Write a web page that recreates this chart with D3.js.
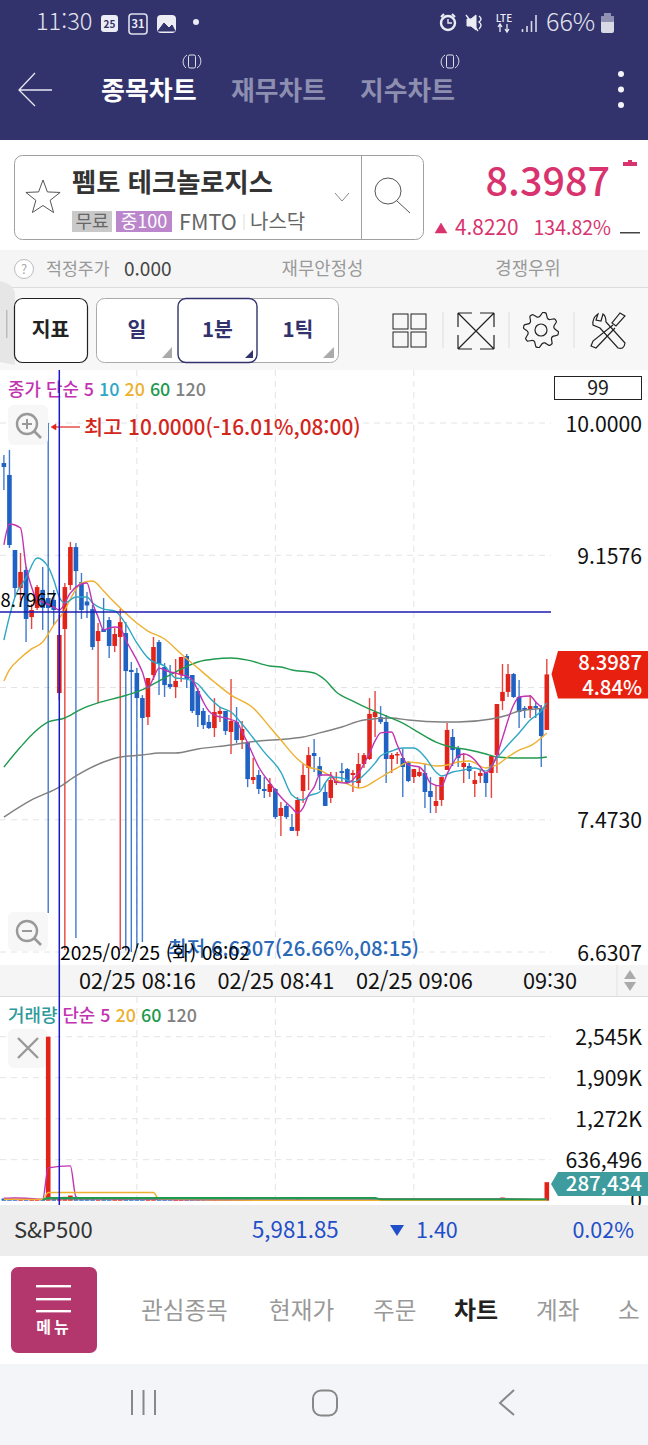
<!DOCTYPE html>
<html lang="ko">
<head>
<meta charset="utf-8">
<title>종목차트</title>
<script src="https://cdn.jsdelivr.net/npm/d3@7"></script>
<style>
  html, body { margin: 0; padding: 0; background: #fff; }
  svg { display: block; }
  text { font-family: "Noto Sans CJK KR", "Noto Sans", sans-serif; }
  .tick line, .domain { display: none; }
</style>
</head>
<body>
<svg id="screen" width="648" height="1445"></svg>
<script>
// 1분봉 99개, 07:52 ~ 09:30
const opens = [
  9.745, 9.669, 9.191, 8.949, 9.064, 8.764, 8.822, 8.937, 8.885, 8.873,
  8.280, 8.688, 8.968, 9.210, 8.987, 8.863, 8.815, 8.611, 8.688, 8.745,
  8.580, 8.637, 8.662, 8.427, 8.408, 8.248, 8.127, 8.395, 8.605, 8.446,
  8.338, 8.318, 8.395, 8.516, 8.395, 8.293, 8.166, 8.096, 8.057, 8.147,
  8.166, 8.032, 8.096, 7.981, 7.968, 7.726, 7.758, 7.669, 7.650, 7.669,
  7.497, 7.561, 7.427, 7.402, 7.656, 7.803, 7.898, 7.815, 7.650, 7.612,
  7.707, 7.783, 7.796, 7.758, 7.707, 7.828, 7.860, 8.127, 8.127, 8.096,
  7.860, 7.885, 7.866, 7.841, 7.745, 7.752, 7.771, 7.656, 7.561, 7.599,
  7.790, 8.000, 7.930, 7.809, 7.815, 7.701, 7.752, 7.771, 7.771, 7.885,
  8.229, 8.287, 8.401, 8.255, 8.185, 8.172, 8.197, 8.185, 8.045
];
const closes = [
  9.720, 9.223, 8.949, 9.051, 8.752, 8.809, 8.955, 8.822, 8.822, 8.809,
  8.650, 8.955, 9.210, 9.057, 8.809, 8.838, 8.573, 8.675, 8.669, 8.580,
  8.656, 8.732, 8.420, 8.414, 8.248, 8.121, 8.376, 8.573, 8.465, 8.331,
  8.318, 8.357, 8.510, 8.370, 8.166, 8.140, 8.076, 8.057, 8.159, 8.166,
  8.038, 8.102, 7.981, 8.051, 7.732, 7.745, 7.669, 7.656, 7.701, 7.490,
  7.548, 7.490, 7.402, 7.599, 7.758, 7.885, 7.879, 7.752, 7.561, 7.726,
  7.720, 7.771, 7.707, 7.771, 7.828, 7.885, 8.147, 8.159, 8.096, 7.860,
  7.885, 7.892, 7.809, 7.720, 7.796, 7.777, 7.650, 7.618, 7.592, 7.745,
  8.045, 7.917, 7.866, 7.834, 7.783, 7.726, 7.771, 7.707, 7.879, 8.210,
  8.287, 8.401, 8.255, 8.159, 8.172, 8.197, 8.185, 8.006, 8.3987
];
const highs = [
  9.796, 9.828, 9.191, 9.172, 9.083, 8.847, 8.968, 9.083, 10.000, 8.937,
  8.777, 8.981, 9.242, 9.236, 9.045, 8.924, 8.841, 8.726, 8.885, 8.765,
  8.694, 8.815, 8.732, 8.478, 8.439, 8.267, 8.376, 8.637, 8.618, 8.471,
  8.459, 8.497, 8.510, 8.529, 8.395, 8.312, 8.185, 8.140, 8.248, 8.191,
  8.166, 8.369, 8.191, 8.102, 7.968, 7.866, 7.790, 7.745, 7.739, 7.675,
  7.586, 7.573, 7.510, 7.618, 7.828, 7.936, 7.987, 7.872, 7.707, 7.777,
  7.777, 7.834, 7.803, 7.790, 7.898, 7.898, 8.248, 8.293, 8.197, 8.140,
  7.898, 7.904, 7.924, 7.847, 7.796, 7.803, 7.828, 7.745, 7.694, 7.745,
  8.089, 8.051, 7.943, 7.898, 7.834, 7.783, 7.790, 7.771, 7.879, 8.210,
  8.465, 8.465, 8.408, 8.363, 8.197, 8.267, 8.223, 8.204, 8.497
];
const lows = [
  9.573, 9.204, 8.892, 8.873, 8.605, 8.688, 8.809, 8.682, 6.879, 8.713,
  8.236, 6.643, 8.937, 6.720, 8.752, 8.758, 8.554, 8.217, 8.669, 8.504,
  8.541, 6.643, 6.640, 6.6307, 6.656, 6.694, 8.076, 8.363, 8.267, 8.255,
  8.306, 8.248, 8.350, 8.312, 8.153, 8.064, 8.051, 8.051, 8.000, 8.096,
  8.013, 7.892, 7.962, 7.924, 7.681, 7.701, 7.637, 7.612, 7.618, 7.478,
  7.370, 7.478, 7.402, 7.370, 7.580, 7.662, 7.777, 7.662, 7.561, 7.580,
  7.694, 7.713, 7.701, 7.650, 7.675, 7.803, 7.854, 8.000, 8.083, 7.707,
  7.771, 7.828, 7.618, 7.713, 7.707, 7.745, 7.548, 7.516, 7.516, 7.561,
  7.790, 7.815, 7.809, 7.707, 7.732, 7.618, 7.707, 7.618, 7.612, 7.771,
  8.172, 8.255, 8.248, 8.057, 8.121, 8.121, 8.121, 7.809, 8.045
];
// 거래량 (천주)
const volumes = [
  35, 30, 28, 22, 20, 15, 12, 14, 2545, 40,
  55, 60, 80, 30, 45, 35, 25, 18, 30, 20,
  25, 40, 35, 45, 30, 20, 25, 20, 18, 15,
  10, 12, 15, 14, 18, 12, 10, 8, 14, 8,
  12, 16, 12, 8, 20, 10, 8, 6, 10, 16,
  10, 8, 6, 22, 14, 10, 8, 10, 8, 6,
  5, 8, 6, 5, 8, 8, 14, 12, 6, 10,
  5, 4, 8, 7, 5, 4, 8, 7, 6, 8,
  18, 10, 6, 5, 5, 6, 5, 5, 12, 30,
  50, 24, 12, 10, 6, 6, 5, 14, 287.434
];
// 봉은 파란색인데 거래량 막대는 빨간색으로 보이는 봉
const volRedIdx = [8];

// 이동평균: 봉 번호 / 값
const ma5Idx = [0,1,3,4,5,6,7,9,10,12,13,15,16,17,18,19,20,21,22,23,24,25,26,27,28,29,30,31,32,33,34,35,36,37,38,40,42,43,44,46,48,50,52,53,54,55,56,57,59,60,62,64,66,67,68,70,71,73,75,76,77,79,80,82,83,85,86,87,89,90,92,93,95,96,97];
const ma5Val = [9.223,9.357,9.331,9.083,8.955,8.873,8.860,8.828,8.809,8.917,8.955,8.981,8.854,8.765,8.682,8.694,8.701,8.694,8.618,8.554,8.490,8.414,8.312,8.376,8.439,8.427,8.414,8.408,8.395,8.389,8.363,8.299,8.223,8.166,8.140,8.121,8.096,8.032,7.962,7.809,7.707,7.618,7.548,7.516,7.548,7.631,7.681,7.758,7.758,7.713,7.707,7.771,7.898,7.975,8.026,8.032,7.949,7.822,7.809,7.771,7.707,7.688,7.764,7.879,7.892,7.854,7.809,7.771,7.885,7.994,8.204,8.255,8.261,8.223,8.191];
const ma10Idx = [0,2,4,6,8,9,10,11,13,15,16,18,20,22,24,26,27,29,31,33,35,37,39,41,43,45,47,50,52,54,55,57,58,59,61,63,64,65,67,68,70,72,74,76,78,79,81,83,85,87,89,91,93,95,97,98];
const ma10Val = [8.618,8.892,9.013,9.140,9.083,9.000,8.892,8.854,8.892,8.892,8.854,8.815,8.803,8.720,8.599,8.504,8.478,8.452,8.376,8.369,8.338,8.255,8.191,8.159,8.083,7.994,7.904,7.777,7.631,7.599,7.624,7.650,7.707,7.745,7.739,7.713,7.726,7.758,7.834,7.879,7.911,7.930,7.930,7.873,7.777,7.752,7.777,7.790,7.803,7.783,7.866,7.949,8.026,8.108,8.166,8.217];
const ma20Idx = [0,1,3,5,7,9,11,12,14,16,18,19,21,24,26,29,32,35,38,41,45,48,50,53,55,57,58,60,62,64,65,67,69,71,73,76,78,80,82,84,87,89,91,93,95,97,98];
const ma20Val = [8.357,8.427,8.503,8.561,8.605,8.713,8.809,8.879,8.981,8.994,8.930,8.892,8.822,8.726,8.675,8.624,8.529,8.439,8.350,8.267,8.185,8.064,7.981,7.860,7.809,7.790,7.771,7.726,7.701,7.675,7.681,7.720,7.764,7.803,7.841,7.828,7.815,7.822,7.841,7.847,7.803,7.822,7.873,7.917,7.943,7.994,8.026];
const ma60Idx = [0,3,5,8,11,14,17,21,24,26,28,32,35,38,41,44,48,50,52,56,58,60,63,66,69,72,75,78,80,84,87,89,93,96,98];
const ma60Val = [7.809,7.936,8.013,8.096,8.121,8.178,8.217,8.255,8.287,8.318,8.357,8.433,8.478,8.497,8.503,8.490,8.452,8.446,8.427,8.408,8.363,8.287,8.229,8.178,8.134,8.089,8.026,7.968,7.943,7.917,7.892,7.873,7.866,7.866,7.873];
const ma120Idx = [0,5,10,13,18,21,25,28,31,35,41,46,51,54,57,61,65,70,73,79,82,88,91,93,96,98];
const ma120Val = [7.490,7.599,7.681,7.752,7.841,7.873,7.885,7.898,7.898,7.924,7.949,7.975,7.987,8.000,8.026,8.064,8.108,8.121,8.108,8.096,8.096,8.115,8.140,8.166,8.178,8.185];

const volMa5Idx = [0,2,4,7,8,12,13,14,24,44,67,98];
const volMa5Val = [39,43,39,23,509,540,59,30,24,8,8,10];
const volMa20Idx = [0,7,8,27,28,50,98];
const volMa20Val = [22,20,127,127,24,6,8];
const volMa60Idx = [7,8,67,68,98];
const volMa60Val = [15,42,42,22,22];
const volMa120Idx = [7,8,67,68,89,98];
const volMa120Val = [12,24,24,32,32,22];

const priceTicks = [10.0000, 9.1576, 7.4730, 6.6307];
const priceGrid = [10.0000, 9.1576, 8.3153, 7.4730, 6.6307];
const timeTickIdx = [24, 49, 74];
const timeTickLabels = ['02/25 08:16', '02/25 08:41', '02/25 09:06'];
const volTicks = [2545, 1909, 1272, 636.496];
const volTickLabels = ['2,545K', '1,909K', '1,272K', '636,496'];

const maColors = { m5: '#c233b2', m10: '#2ea7c4', m20: '#edb02f', m60: '#1f9a4f', m120: '#808080' };
const upColor = '#e2231a';
const downColor = '#1f62c4';

const svg = d3.select('#screen');
const font = '"Noto Sans CJK KR", "Noto Sans", sans-serif';

function label(parent, x, y, str, size, fill, anchor, weight) {
  return parent.append('text')
    .attr('x', x).attr('y', y)
    .attr('dy', '0.35em')
    .attr('font-size', size)
    .attr('fill', fill)
    .attr('text-anchor', anchor || 'start')
    .attr('font-weight', weight || 400)
    .text(str);
}
function box(parent, x, y, w, h, fill, stroke, r) {
  return parent.append('rect')
    .attr('x', x).attr('y', y).attr('width', w).attr('height', h)
    .attr('rx', r || 0)
    .attr('fill', fill || 'none')
    .attr('stroke', stroke || 'none');
}
function icon(parent, d, stroke, width, fill) {
  return parent.append('path')
    .attr('d', d)
    .attr('fill', fill || 'none')
    .attr('stroke', stroke)
    .attr('stroke-width', width || 1.5);
}

// ---- 상단 ----
const head = svg.append('g');
box(head, 0, 0, 648, 140, '#32336c');
label(head, 36, 22, '11:30', 23.6, '#e4e4ee', 'start', 300);
box(head, 101, 15, 17, 17, '#ececf4', null, 3);
label(head, 109.5, 24, '25', 10, '#32336c', 'middle', 700);
box(head, 129, 14, 18, 20, 'none', '#dfdfea', 3).attr('stroke-width', 1.6);
label(head, 138, 24, '31', 11, '#ececf4', 'middle', 700);
box(head, 157, 15, 19, 18, '#ececf4', null, 4);
icon(head, 'M158 31 L164 23 L169 28 L172 25 L175 31 Z', '#32336c', 1, '#32336c');
head.append('circle').attr('cx', 196).attr('cy', 22).attr('r', 3).attr('fill', '#ececf4');
head.append('circle').attr('cx', 448).attr('cy', 23).attr('r', 7).attr('fill', 'none').attr('stroke', '#ececf4').attr('stroke-width', 2.4);
icon(head, 'M448 19 V23 H452', '#ececf4', 1.4);
icon(head, 'M441 17 L444 14 M455 17 L452 14', '#ececf4', 2);
icon(head, 'M467 19 H471 L476 15 V30 L471 26 H467 Z', '#ececf4', 1, '#ececf4');
icon(head, 'M479 16 Q483 19 479 22 Q483 25 479 29 M466 15 L478 31', '#ececf4', 1.4);
label(head, 504, 18, 'LTE', 10, '#ececf4', 'middle', 500);
icon(head, 'M500 24 V32 M498 27 L500 24 L502 27 M507 24 V32 M505 29 L507 32 L509 29', '#ececf4', 1.3);
icon(head, 'M522.5 32 V29 M527 32 V26 M531.5 32 V21 M536 32 V15', '#d8d8e6', 1.6);
label(head, 546, 22, '66%', 25, '#e4e4ee', 'start', 300);
box(head, 601, 16, 13, 17, '#d9d9e6', null, 2);
box(head, 604, 13, 7, 3, '#8f90b2');
box(head, 601, 16, 13, 6, '#8f90b2', null, 1);

icon(head, 'M52 90 H19 M35 73 L19 90 L35 106', '#e8e8f2', 1.3);
label(head, 101, 90.5, '종목차트', 26, '#ffffff', 'start', 700);
label(head, 231, 90.5, '재무차트', 25.8, '#8d8eb0', 'start', 700);
label(head, 360, 90.5, '지수차트', 25.8, '#8d8eb0', 'start', 700);
[192, 450].forEach(x => {
  box(head, x - 3.5, 55, 7, 13, 'none', '#e0e0ea', 1.5);
  icon(head, `M${x - 6} 68 A8 8 0 0 1 ${x - 5} 55 M${x + 6} 55 A8 8 0 0 1 ${x + 5} 68`, '#e0e0ea', 1);
});
[74, 89.5, 105].forEach(y => head.append('circle').attr('cx', 621).attr('cy', y).attr('r', 3).attr('fill', '#f4f4f8'));

// ---- 종목 정보 ----
const info = svg.append('g');
box(info, 0, 140, 648, 110, '#ffffff');
box(info, 14.5, 155.5, 409, 84, '#fff', '#a0a0a0', 8);
info.append('line').attr('x1', 361.5).attr('x2', 361.5).attr('y1', 155).attr('y2', 239).attr('stroke', '#a0a0a0');
const star = d3.range(10).map(k => {
  const r = k % 2 ? 7.5 : 18;
  const a = -Math.PI / 2 + k * Math.PI / 5;
  return [43 + r * Math.cos(a), 198 + r * Math.sin(a)];
});
icon(info, d3.line()(star) + 'Z', '#555', 1);
label(info, 72, 182.5, '펨토 테크놀로지스', 26.3, '#333', 'start', 700);
icon(info, 'M335 193 L342 201 L349 193', '#888', 1);
info.append('circle').attr('cx', 388).attr('cy', 191).attr('r', 13).attr('fill', 'none').attr('stroke', '#555');
icon(info, 'M397 201 L410 213', '#555', 1);
box(info, 72, 211, 40, 21, '#c9c9c9');
label(info, 92, 221.5, '무료', 18, '#666', 'middle');
box(info, 116, 211, 56, 21, '#bb86cc');
label(info, 144, 221.5, '중100', 18, '#fff', 'middle');
label(info, 179, 222, 'FMTO', 21.6, '#666');
info.append('line').attr('x1', 244).attr('x2', 244).attr('y1', 214).attr('y2', 230).attr('stroke', '#ddd');
label(info, 250, 222, '나스닥', 20, '#666');
label(info, 610, 182, '8.3987', 39.5, '#d8336e', 'end', 500);
box(info, 623, 162, 14, 4, '#d8336e');
box(info, 628, 160, 4, 2, '#d8336e');
icon(info, 'M435 233 L441 223 L447 233 Z', '#d8336e', 0.5, '#d8336e');
label(info, 455, 228, '4.8220', 20.8, '#d8336e');
label(info, 611, 228, '134.82%', 19.5, '#d8336e', 'end');
box(info, 620, 232, 20, 1.5, '#444');

box(info, 0, 250, 648, 38, '#f5f5f5');
info.append('circle').attr('cx', 24).attr('cy', 269).attr('r', 9.5).attr('fill', '#fff').attr('stroke', '#bbb');
label(info, 24, 269, '?', 13, '#aaa', 'middle');
label(info, 46, 269, '적정주가', 17.3, '#999');
label(info, 124, 269, '0.000', 19, '#444');
label(info, 322.5, 269, '재무안정성', 17.8, '#999', 'middle');
label(info, 528, 269, '경쟁우위', 17.8, '#999', 'middle');
box(info, 0, 287, 648, 1, '#dcdcdc');

// ---- 툴바 ----
const bar = svg.append('g');
box(bar, 0, 288, 648, 82, '#f7f7f7');
bar.append('path').attr('d', 'M0 281 Q15 284 15 296 V365 L0 362 Z').attr('fill', '#e6e6e6');
box(bar, 6, 310, 1.5, 28, '#bcbcbc');
box(bar, 14.5, 298.5, 73, 64, '#fff', '#222', 8).attr('stroke-width', 1.2);
label(bar, 50.5, 330, '지표', 20.5, '#222', 'middle', 700);
box(bar, 96.5, 298.5, 242, 64, '#fff', '#aaa', 8);
box(bar, 178, 298.5, 79, 64, '#fff', '#32336c', 8).attr('stroke-width', 1.4);
label(bar, 137, 330, '일', 20.5, '#32336c', 'middle', 700);
label(bar, 217.5, 330, '1분', 20.5, '#32336c', 'middle', 700);
label(bar, 298, 330, '1틱', 20.5, '#32336c', 'middle', 700);
icon(bar, 'M162 358 H172 V347 Z', 'none', 0, '#aaa');
icon(bar, 'M245 358 H253 V350 Z', 'none', 0, '#32336c');
icon(bar, 'M323 358 H334 V347 Z', 'none', 0, '#aaa');
[[393, 314], [411, 314], [393, 332], [411, 332]].forEach(p => box(bar, p[0], p[1], 15, 15, 'none', '#222'));
[443, 509, 574].forEach(x => bar.append('line').attr('x1', x).attr('x2', x).attr('y1', 312).attr('y2', 348).attr('stroke', '#ddd'));
icon(bar, 'M458 313 H472 M458 313 V327 M494 313 H480 M494 313 V327 M458 349 H472 M458 349 V335 M494 349 H480 M494 349 V335 M458 313 L494 349 M494 313 L458 349', '#222', 1.2);
const gear = d3.range(32).map(k => {
  const r = (k % 4 < 2) ? 17.5 : 13.5;
  const a = k * Math.PI / 16 + Math.PI / 32;
  return [541 + r * Math.cos(a), 330 + r * Math.sin(a)];
});
icon(bar, d3.line().curve(d3.curveCardinalClosed.tension(0.6))(gear), '#222', 1.2);
bar.append('circle').attr('cx', 541).attr('cy', 330).attr('r', 6).attr('fill', 'none').attr('stroke', '#222').attr('stroke-width', 1.2);
icon(bar, 'M598 314 Q592 318 593 325 L600 328 L618 348 Q624 350 625 343 L606 322 Q606 316 603 314 L601 321 L596 320 Z', '#222', 1.2);
icon(bar, 'M625 316 L620 313 L612 323 L616 326 Z M613 325 L593 341 L591 346 L596 348 L615 328', '#222', 1.2);

// ---- 가격 차트 ----
const x = d3.scaleLinear().domain([0, 98]).range([3.9, 546.8]);
const y = d3.scaleLinear().domain([6.6307, 10]).range([952, 423]);
const vy = d3.scaleLinear().domain([0, 2545]).range([1200.7, 1036.7]);

box(svg, 0, 370, 648, 595, '#fff');
box(svg, 0, 996, 648, 209, '#fff');

function gridV(y1, y2) {
  svg.append('g').selectAll('line').data(timeTickIdx).join('line')
    .attr('x1', d => x(d)).attr('x2', d => x(d))
    .attr('y1', y1).attr('y2', y2)
    .attr('stroke', '#e4e4e4').attr('stroke-dasharray', '6 5');
}
function gridH(scale, values) {
  svg.append('g').selectAll('line').data(values).join('line')
    .attr('x1', 0).attr('x2', 551)
    .attr('y1', d => scale(d)).attr('y2', d => scale(d))
    .attr('stroke', '#e4e4e4').attr('stroke-dasharray', '6 5');
}
gridV(370, 965);
gridV(997, 1204);
gridH(y, priceGrid);
gridH(vy, volTicks);

const candles = svg.append('g').selectAll('g').data(d3.range(opens.length)).join('g');
candles.append('line')
  .attr('x1', i => x(i)).attr('x2', i => x(i))
  .attr('y1', i => y(highs[i])).attr('y2', i => y(lows[i]))
  .attr('stroke', i => closes[i] >= opens[i] ? upColor : downColor)
  .attr('stroke-opacity', 0.85)
  .attr('stroke-width', 1.4);
candles.append('rect')
  .attr('x', i => x(i) - 2.3).attr('width', 4.6)
  .attr('y', i => y(Math.max(opens[i], closes[i])))
  .attr('height', i => Math.max(1.5, Math.abs(y(opens[i]) - y(closes[i]))))
  .attr('fill', i => closes[i] >= opens[i] ? upColor : downColor);

function maLine(scale, idx, val, color, w) {
  const line = d3.line().x(d => x(d[0])).y(d => scale(d[1])).curve(d3.curveMonotoneX);
  svg.append('path')
    .datum(d3.zip(idx, val))
    .attr('d', line)
    .attr('fill', 'none')
    .attr('stroke', color)
    .attr('stroke-width', w || 1.4);
}
maLine(y, ma120Idx, ma120Val, maColors.m120);
maLine(y, ma60Idx, ma60Val, maColors.m60);
maLine(y, ma20Idx, ma20Val, maColors.m20);
maLine(y, ma10Idx, ma10Val, maColors.m10);
maLine(y, ma5Idx, ma5Val, maColors.m5);

svg.append('g').attr('transform', 'translate(642,0)').style('font-family', font)
  .call(d3.axisLeft(y).tickValues(priceTicks).tickSize(0).tickPadding(0).tickFormat(d3.format('.4f')))
  .call(g => g.selectAll('text').attr('font-size', 21.2).attr('fill', '#111').attr('dy', '0.38em').attr('font-family', font));

// 범례
function legend(yPos, parts) {
  const t = svg.append('text').attr('x', 8).attr('y', yPos).attr('dy', '0.35em').attr('font-size', 17.9).attr('font-weight', 500);
  parts.forEach(p => t.append('tspan').attr('fill', p[1]).text(p[0] + ' '));
}
legend(390, [['종가 단순 5', maColors.m5], ['10', maColors.m10], ['20', maColors.m20], ['60', maColors.m60], ['120', maColors.m120]]);
box(svg, 554.5, 376.5, 87, 23, '#fff', '#222');
label(svg, 598, 388, '99', 19.5, '#222', 'middle');

// 확대/축소
box(svg, 8, 405, 40, 40, '#f7f7f7', null, 6);
box(svg, 8, 912, 40, 39, '#f7f7f7', null, 6);
[[27, 424, true], [27, 931, false]].forEach(p => {
  svg.append('circle').attr('cx', p[0]).attr('cy', p[1]).attr('r', 10).attr('fill', 'none').attr('stroke', '#999').attr('stroke-width', 2.4);
  icon(svg, `M${p[0] + 7} ${p[1] + 7} L${p[0] + 14} ${p[1] + 14}`, '#999', 2.6);
  icon(svg, `M${p[0] - 5} ${p[1]} H${p[0] + 5}` + (p[2] ? ` M${p[0]} ${p[1] - 5} V${p[1] + 5}` : ''), '#999', 2);
});

// 최고/최저
icon(svg, 'M80 427 H54', upColor, 1.2);
icon(svg, 'M51 427 L56 424 V430 Z', upColor, 0.5, upColor);
label(svg, 84, 428, '최고 10.0000(-16.01%,08:00)', 20.8, '#d3261b', 'start', 500);
label(svg, 168, 949, '최저 6.6307(26.66%,08:15)', 20.3, '#2a68b8', 'start', 500);

// 크로스헤어
svg.append('line').attr('x1', 0).attr('x2', 551).attr('y1', y(8.7967)).attr('y2', y(8.7967)).attr('stroke', '#1b1bb0').attr('stroke-width', 1.5);
label(svg, 0.5, 601, '8.7967', 18.4, '#000');
label(svg, 60, 953, '2025/02/25 (화) 08:02', 19.2, '#000');

// 현재가
icon(svg, 'M551.5 674 L558 651 H648 V698.5 H558 Z', 'none', 0, '#e7200f');
label(svg, 642, 663, '8.3987', 20.3, '#fff', 'end', 500);
label(svg, 642, 688, '4.84%', 20.3, '#fff', 'end', 500);

// 시간축
box(svg, 0, 965, 648, 31, '#f5f5f5');
box(svg, 0, 996, 648, 1, '#dcdcdc');
svg.append('g').attr('transform', 'translate(0,981)').style('font-family', font)
  .call(d3.axisBottom(x).tickValues(timeTickIdx).tickSize(0).tickPadding(0).tickFormat((d, k) => timeTickLabels[k]))
  .call(g => g.selectAll('text').attr('font-size', 21.7).attr('fill', '#111').attr('dy', '0.35em').attr('font-family', font));
label(svg, 550, 981, '09:30', 21.7, '#111', 'middle');
svg.append('line').attr('x1', 617).attr('x2', 617).attr('y1', 965).attr('y2', 996).attr('stroke', '#e2e2e2');
icon(svg, 'M624 979 L630 970 L636 979 Z', 'none', 0, '#aaa');
icon(svg, 'M624 982 L630 991 L636 982 Z', 'none', 0, '#aaa');

// ---- 거래량 ----
legend(1016, [['거래량', '#2f9a9a'], ['단순 5', maColors.m5], ['20', maColors.m20], ['60', maColors.m60], ['120', maColors.m120]]);
box(svg, 8, 1029, 40, 39, '#f7f7f7', null, 6);
icon(svg, 'M18 1038 L38 1058 M38 1038 L18 1058', '#999', 2.4);

svg.append('g').selectAll('rect').data(d3.range(volumes.length)).join('rect')
  .attr('x', i => x(i) - 2.3).attr('width', 4.6)
  .attr('y', i => vy(volumes[i]))
  .attr('height', i => vy(0) - vy(volumes[i]))
  .attr('fill', i => (closes[i] >= opens[i] || volRedIdx.includes(i)) ? upColor : downColor);
maLine(vy, volMa5Idx, volMa5Val, maColors.m5);
maLine(vy, volMa20Idx, volMa20Val, maColors.m20);
maLine(vy, volMa120Idx, volMa120Val, maColors.m120);
maLine(vy, volMa60Idx, volMa60Val, maColors.m60, 1.8);

svg.append('g').attr('transform', 'translate(642,0)').style('font-family', font)
  .call(d3.axisLeft(vy).tickValues(volTicks).tickSize(0).tickPadding(0).tickFormat((d, k) => volTickLabels[k]))
  .call(g => g.selectAll('text').attr('font-size', 21.2).attr('fill', '#111').attr('dy', '0.38em').attr('font-family', font));
label(svg, 642, 1201, '0', 21, '#111', 'end');
icon(svg, 'M551 1184 L558 1172 H648 V1196 H558 Z', 'none', 0, '#3f9c9e');
label(svg, 642, 1184, '287,434', 20.5, '#fff', 'end', 500);

// 세로 크로스헤어
svg.append('line').attr('x1', x(10)).attr('x2', x(10)).attr('y1', 370).attr('y2', 1205).attr('stroke', '#1a1ac8').attr('stroke-width', 1.5);

// ---- 하단 ----
const foot = svg.append('g');
box(foot, 0, 1205, 648, 51, '#ededed');
label(foot, 14, 1230, 'S&P500', 22, '#333');
label(foot, 252, 1230, '5,981.85', 22.3, '#1f4fc9');
icon(foot, 'M390 1225 H404 L397 1236 Z', 'none', 0, '#1f4fc9');
label(foot, 416, 1230, '1.40', 21.5, '#1f4fc9');
label(foot, 634, 1230, '0.02%', 21.5, '#1f4fc9', 'end');
box(foot, 0, 1256, 648, 108, '#fff');
box(foot, 11, 1267, 86, 86, '#b3366c', null, 7);
[1285, 1298, 1310].forEach(yy => box(foot, 36, yy, 35, 2.4, '#fff'));
label(foot, 54, 1327, '메뉴', 16, '#fff', 'middle', 700).attr('letter-spacing', 3);
label(foot, 141, 1311, '관심종목', 23.6, '#999');
label(foot, 269, 1311, '현재가', 23.6, '#999');
label(foot, 373, 1311, '주문', 23.6, '#999');
label(foot, 454, 1311, '차트', 24, '#222', 'start', 700);
label(foot, 536, 1311, '계좌', 23.6, '#999');
label(foot, 618, 1311, '소', 23.6, '#999');
box(foot, 0, 1364, 648, 81, '#f4f5f8');
icon(foot, 'M132 1390 V1415 M143.5 1390 V1415 M155 1390 V1415', '#888', 2);
box(foot, 313, 1390.5, 24, 25, 'none', '#888', 8).attr('stroke-width', 2);
icon(foot, 'M514 1390 L500 1403 L514 1415', '#888', 2);
</script>
</body>
</html>
